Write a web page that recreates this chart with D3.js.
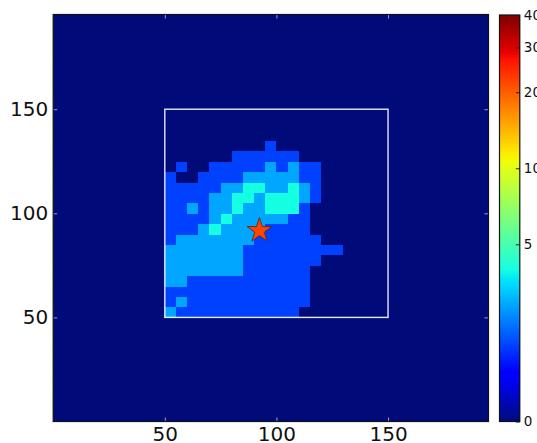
<!DOCTYPE html>
<html><head><meta charset="utf-8">
<script src="https://cdn.jsdelivr.net/npm/d3@7"></script>
<style>html,body{margin:0;padding:0;background:#fff;overflow:hidden}svg{display:block}text{font-family:"DejaVu Sans";fill:#111}</style>
</head><body><svg id="c" width="537" height="443"></svg>
<script>
// bin size and axis ticks
const binSize = 5;
const xMax = 195, yMax = 195.5;
const mainTicks = [50, 100, 150];
const cbarTicks = [0, 5, 10, 20, 30, 40];
const cbarFractions = [0, 0.436, 0.623, 0.81, 0.92, 1];
// value shown for each class of bin
const levelValues = [0, 2.15, 3.3, 4.3];
// start of first listed row/column, in data units
const firstY = 50, firstX = 50;
// bin classes from y=50 upward, x=50 rightward
const row50  = [2,1,1,1,1,1,1,1,1,1,1,1,0,0,0,0];
const row55  = [1,2,1,1,1,1,1,1,1,1,1,1,1,0,0,0];
const row60  = [1,1,1,1,1,1,1,1,1,1,1,1,1,0,0,0];
const row65  = [2,2,1,1,1,1,1,1,1,1,1,1,1,0,0,0];
const row70  = [2,2,2,2,2,2,2,1,1,1,1,1,1,0,0,0];
const row75  = [2,2,2,2,2,2,2,1,1,1,1,1,1,1,0,0];
const row80  = [2,2,2,2,2,2,2,1,1,1,1,1,1,1,1,1];
const row85  = [1,2,2,2,2,2,2,2,1,1,1,1,1,1,0,0];
const row90  = [1,1,1,2,3,2,2,2,2,1,1,1,1,0,0,0];
const row95  = [1,1,1,1,2,3,2,2,2,2,2,1,1,0,0,0];
const row100 = [1,1,2,1,2,2,3,2,2,3,3,3,1,0,0,0];
const row105 = [1,1,1,1,2,2,3,3,2,3,3,3,2,1,0,0];
const row110 = [1,1,1,1,1,2,2,3,3,2,2,3,2,1,0,0];
const row115 = [1,0,0,1,1,1,1,2,2,2,2,2,1,1,0,0];
const row120 = [0,1,0,0,1,1,1,1,1,2,1,2,1,1,0,0];
const row125 = [0,0,0,0,0,0,1,1,1,1,1,1,0,0,0,0];
const row130 = [0,0,0,0,0,0,0,0,0,1,0,0,0,0,0,0];
const rows = [row50,row55,row60,row65,row70,row75,row80,row85,row90,row95,row100,row105,row110,row115,row120,row125,row130];
const box = [50, 150];
const starPoint = [92.4, 91.7];

const L=53.2, R=488.5, T=14.5, B=421.5;
const x=d3.scaleLinear().domain([0,xMax]).range([L,R]);
const y=d3.scaleLinear().domain([0,yMax]).range([B,T]);
const norm=d3.scaleLinear().domain(cbarTicks).range(cbarFractions).clamp(true);
const chR=d3.scaleLinear().domain([0,.35,.66,.89,1]).range([0,0,1,1,.5]).clamp(true);
const chG=d3.scaleLinear().domain([0,.125,.375,.64,.91,1]).range([.045,0,1,1,0,0]).clamp(true);
const chB=d3.scaleLinear().domain([0,.11,.34,.65,1]).range([.475,1,1,0,0]).clamp(true);
const jet=f=>d3.rgb(chR(f)*255,chG(f)*255,chB(f)*255).formatHex();
const colorOf=v=>jet(norm(v));

const svg=d3.select('#c');
svg.append('clipPath').attr('id','frame').append('rect').attr('x',L).attr('y',T).attr('width',R-L).attr('height',B-T);
// heatmap
const cells=[];
for(let vy=0;vy<yMax;vy+=binSize)for(let vx=0;vx<xMax;vx+=binSize){
  const r=rows[(vy-firstY)/binSize];
  const k=r?r[(vx-firstX)/binSize]:undefined;
  cells.push({vx,vy,v:levelValues[k||0]});
}
svg.append('g').attr('clip-path','url(#frame)').attr('shape-rendering','crispEdges').selectAll('rect').data(cells).join('rect')
 .attr('x',d=>x(d.vx)).attr('y',d=>y(d.vy+binSize))
 .attr('width',d=>x(d.vx+binSize)-x(d.vx)+.5).attr('height',d=>y(d.vy)-y(d.vy+binSize)+.5)
 .attr('fill',d=>colorOf(d.v));

// box
svg.append('rect').attr('x',x(box[0])).attr('y',y(box[1])).attr('width',x(box[1])-x(box[0])).attr('height',y(box[0])-y(box[1]))
 .attr('fill','none').attr('stroke','#fff').attr('stroke-width',1.4).attr('opacity',.9);

// star
svg.append('path').attr('d',d3.symbol(d3.symbolStar,190)())
 .attr('transform',`translate(${x(starPoint[0])},${y(starPoint[1])})`)
 .attr('fill','#ff4500').attr('stroke','#5a2a20').attr('stroke-width',.9);

// axes
function style(g,color){g.select('.domain').remove();g.selectAll('line').attr('stroke',color).attr('stroke-width',1);}
const gl=svg.append('g').attr('transform',`translate(${L},0)`).call(d3.axisLeft(y).tickValues(mainTicks).tickSizeInner(-4).tickPadding(5));
const gb=svg.append('g').attr('transform',`translate(0,${B})`).call(d3.axisBottom(x).tickValues(mainTicks).tickSizeInner(-4).tickPadding(5));
const gr=svg.append('g').attr('transform',`translate(${R},0)`).call(d3.axisRight(y).tickValues(mainTicks).tickSizeInner(-4).tickFormat(''));
const gt=svg.append('g').attr('transform',`translate(0,${T})`).call(d3.axisTop(x).tickValues(mainTicks).tickSizeInner(-4).tickFormat(''));
[gl,gb,gr,gt].forEach(g=>{style(g,'rgba(255,255,255,.6)');});
[gl,gb].forEach(g=>g.selectAll('text').style('font-family','"DejaVu Sans"').style('font-size','20px').attr('fill','#111'));
svg.append('rect').attr('x',L).attr('y',T).attr('width',R-L).attr('height',B-T).attr('fill','none').attr('stroke','#111').attr('stroke-width',1.2);

// colorbar
const cL=499.5,cR=519.8,cT=15,cB=421.5;
const cy=d3.scaleLinear().domain([0,1]).range([cB,cT]);
const steps=d3.range(256);
svg.append('g').attr('shape-rendering','crispEdges').selectAll('rect').data(steps).join('rect')
 .attr('x',cL).attr('width',cR-cL).attr('y',s=>cy((s+1)/256)).attr('height',s=>cy(s/256)-cy((s+1)/256)+.6)
 .attr('fill',s=>jet((s+.5)/256));
const cbarPos=d3.scaleLinear().domain(cbarTicks).range(cbarFractions.map(cy));
const gc=svg.append('g').attr('transform',`translate(${cR},0)`).call(d3.axisRight(cbarPos).tickValues(cbarTicks).tickSizeInner(-4).tickPadding(4).tickFormat(d3.format('d')));
style(gc,'#222');
gc.selectAll('text').style('font-family','"DejaVu Sans"').style('font-size','13.5px').attr('fill','#111');
svg.append('rect').attr('x',cL).attr('y',cT).attr('width',cR-cL).attr('height',cB-cT).attr('fill','none').attr('stroke','#111').attr('stroke-width',1.2);
</script></body></html>
